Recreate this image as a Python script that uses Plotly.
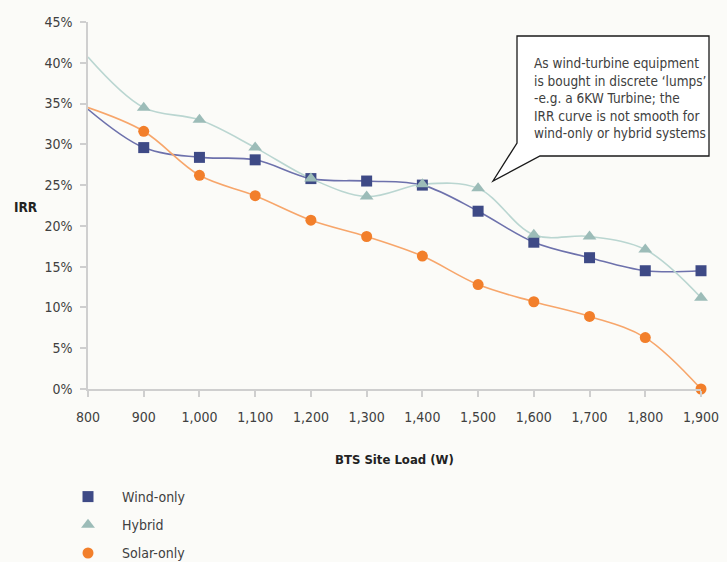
import plotly.graph_objects as go

# BTS site load (W) and internal rate of return (%) per system type
loads = [800, 900, 1000, 1100, 1200, 1300, 1400, 1500, 1600, 1700, 1800, 1900]
wind_only = [34.3, 29.6, 28.4, 28.1, 25.8, 25.5, 25.0, 21.8, 18.0, 16.1, 14.5, 14.5]
hybrid = [40.7, 34.5, 33.0, 29.6, 25.8, 23.6, 25.1, 24.6, 18.9, 18.7, 17.1, 11.2]
solar_only = [34.5, 31.6, 26.2, 23.7, 20.7, 18.7, 16.3, 12.8, 10.7, 8.9, 6.3, 0.0]

series_names = ["Wind-only", "Hybrid", "Solar-only"]
x_ticks = [800, 900, 1000, 1100, 1200, 1300, 1400, 1500, 1600, 1700, 1800, 1900]
y_ticks = [0, 5, 10, 15, 20, 25, 30, 35, 40, 45]
y_tick_labels = [f"{v}%" for v in y_ticks]

callout_lines = [
    "As wind-turbine equipment",
    "is bought in discrete \u2018lumps\u2019",
    "-e.g. a 6KW Turbine; the",
    "IRR curve is not smooth for",
    "wind-only or hybrid systems",
]

FONT = "DejaVu Sans Condensed, Liberation Sans Narrow, Roboto, sans-serif"
TEXT = "#404040"
BG = "#fbfbf8"
AXIS = "#cfcfcf"

W, H = 727, 562
L, R, T, B = 88, 26, 22, 173
PW, PH = W - L - R, H - T - B


def px(xp):
    return (xp - L) / PW


def py(yp):
    return (H - B - yp) / PH


styles = [
    dict(line="#6d71ac", marker="#3e4a86", symbol="square", size=11),
    dict(line="#bad6d1", marker="#9cbcb8", symbol="triangle-up", size=12),
    dict(line="#f7a66b", marker="#f27f2b", symbol="circle", size=11),
]
all_values = [wind_only, hybrid, solar_only]

fig = go.Figure()

# smoothed connecting curves (start at 800 W, no marker there)
for name, vals, st in zip(series_names, all_values, styles):
    fig.add_trace(go.Scatter(
        x=loads, y=vals, mode="lines", showlegend=False, hoverinfo="skip",
        line=dict(color=st["line"], width=1.6, shape="spline", smoothing=1.0),
        cliponaxis=False,
    ))

# markers from 900 W onward
for i, (name, vals, st) in enumerate(zip(series_names, all_values, styles)):
    fig.add_trace(go.Scatter(
        x=loads[1:], y=vals[1:], mode="markers", name=name,
        legendgroup=f"g{i}",
        marker=dict(color=st["marker"], symbol=st["symbol"], size=st["size"],
                    line=dict(width=0)),
        cliponaxis=False,
    ))

# speech-bubble callout
box_l, box_r, box_t, box_b = 517, 709, 36, 156
tail_left_y, tail_base_x = 143, 540
tip_x, tip_y = 493, 181
path = (
    f"M {px(box_l)} {py(box_t)} L {px(box_r)} {py(box_t)} "
    f"L {px(box_r)} {py(box_b)} L {px(tail_base_x)} {py(box_b)} "
    f"L {px(tip_x)} {py(tip_y)} L {px(box_l)} {py(tail_left_y)} Z"
)

fig.update_layout(
    width=W, height=H,
    margin=dict(l=L, r=R, t=T, b=B, pad=0, autoexpand=False),
    paper_bgcolor=BG, plot_bgcolor=BG,
    font=dict(family=FONT, size=14, color=TEXT),
    showlegend=True,
    legend=dict(
        x=px(54), y=py(481), xanchor="left", yanchor="top",
        orientation="v", bgcolor="rgba(0,0,0,0)",
        font=dict(family=FONT, size=14, color=TEXT),
        tracegroupgap=7, itemwidth=58,
    ),
    xaxis=dict(
        range=[800, 1900], tickmode="array", tickvals=x_ticks,
        tickformat=",d", showgrid=False, zeroline=False,
        showline=True, linecolor=AXIS, linewidth=1.5,
        ticks="outside", ticklen=6, tickcolor=AXIS, tickwidth=1.5,
        ticklabelstandoff=8,
        tickfont=dict(family=FONT, size=14, color=TEXT),
        automargin=False,
    ),
    yaxis=dict(
        range=[0, 45], tickmode="array", tickvals=y_ticks,
        ticktext=y_tick_labels, showgrid=False, zeroline=False,
        showline=True, linecolor=AXIS, linewidth=1.5,
        ticks="outside", ticklen=6, tickcolor=AXIS, tickwidth=1.5,
        ticklabelstandoff=5,
        tickfont=dict(family=FONT, size=14, color=TEXT),
        automargin=False,
    ),
    shapes=[dict(type="path", xref="paper", yref="paper", path=path,
                 fillcolor="white", line=dict(color="#1a1a1a", width=1.3),
                 layer="above")],
    annotations=[
        dict(text="<b>IRR</b>", xref="paper", yref="paper",
             x=px(26), y=py(207), showarrow=False,
             xanchor="center", yanchor="middle",
             font=dict(family=FONT, size=13.5, color="#222")),
        dict(text="<b>BTS Site Load (W)</b>", xref="paper", yref="paper",
             x=px(394), y=py(459), showarrow=False,
             xanchor="center", yanchor="middle",
             font=dict(family=FONT, size=13, color="#222")),
        dict(text="<br>".join(callout_lines), xref="paper", yref="paper",
             x=px(532), y=py(98), showarrow=False, align="left",
             xanchor="left", yanchor="middle",
             font=dict(family=FONT, size=13.5, color=TEXT)),
    ],
)

fig.write_html("out.html")
